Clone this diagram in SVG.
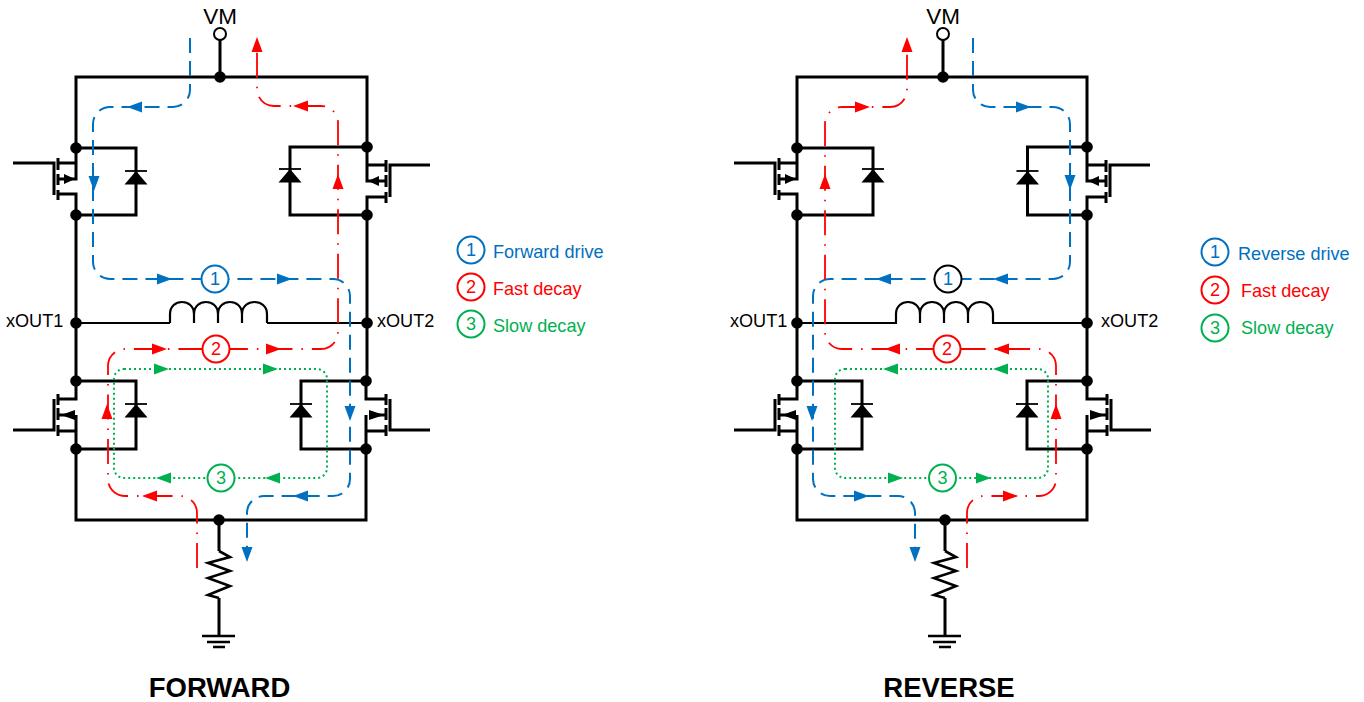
<svg xmlns="http://www.w3.org/2000/svg" width="1364" height="702" viewBox="0 0 1364 702">
<style>
text{font-family:"Liberation Sans",Arial,sans-serif;font-size:18.1px;fill:#000}
.w{fill:none;stroke:#000;stroke-width:3;stroke-linejoin:miter}
.g{fill:none;stroke:#000;stroke-width:2.6}
.b{fill:none;stroke:#000;stroke-width:1.8}
.t{fill:none;stroke:#000;stroke-width:2.2}
.d{fill:#000;stroke:none}
.o{fill:#fff;stroke:#000;stroke-width:2}
.blue{fill:none;stroke:#0070C0;stroke-width:2;stroke-dasharray:15 8}
.red{fill:none;stroke:#FF0000;stroke-width:1.8;stroke-dasharray:25 9 1.5 9}
.green{fill:none;stroke:#00B050;stroke-width:2;stroke-dasharray:2 3}
.ab{fill:#0070C0}.ar{fill:#FF0000}.ag{fill:#00B050}
.cb,.cr,.cg,.ck{fill:#fff;stroke-width:2}
.cb{stroke:#0070C0}.cr{stroke:#FF0000}.cg{stroke:#00B050}.ck{stroke:#000}
.tb{fill:#0070C0}.tr{fill:#FF0000}.tg{fill:#00B050}
.m{text-anchor:middle}
.h{font-size:27.5px;font-weight:bold;text-anchor:middle}
.vm{font-size:22.5px;text-anchor:middle}
</style>
<defs>
<polygon id="ah" points="0,0 -15,-5.500 -15,5.500"/>
<circle id="n" r="5.800" class="d"/>
<g id="dio"><path class="b" d="M-11,0H11"/><polygon class="d" points="0,0 11.500,13.500 -11.500,13.500"/></g>
<path id="coil" class="t" d="M0,21V12C0,-4 24,-4 24,12V21M24,12C24,-4 48,-4 48,12V21M48,12C48,-4 72,-4 72,12V21M72,12C72,-4 97,-4 97,12V21"/>
<g id="mtl"><path class="w" d="M-63,15H-22V47M-18,10V22M-18,26V37M-18,42V52M0,0V31H-18M-18,46H0V67M-18,15H0"/><polygon class="d" points="-1,31 -12,26 -12,36"/></g>
<g id="mtr"><path class="w" d="M63,18H23V50M19,13V25M19,28V40M19,45V56M0,0V34H19M19,50H0V68M19,18H0"/><polygon class="d" points="1,34 12,29 12,39"/></g>
<g id="mbl"><path class="w" d="M-63,49H-22V18M-18,13V24M-18,27V39M-18,44V55M0,0V18H-18M-18,34H-8M0,34V68M-18,50H0"/><polygon class="d" points="-15,34 -1,29 -1,39"/></g>
<g id="mbr"><path class="w" d="M64,49H24V18M20,13V24M20,27V39M20,44V55M0,0V18H20M20,34H10M0,34V68M20,50H0"/><polygon class="d" points="18,34 3,29 3,39"/></g>
</defs>

<g id="forward-bridge">
<path class="w" d="M76,148V77H367V147M76,215V323M367,215V323M76,323V381M367,323V381M76,449V520H366V449M220,40V77M219,520V551M219,598V636"/>
<path class="g" d="M219,551L230,557L208,563L230,571L208,578L230,586L208,595L219,598"/>
<path class="g" d="M202,636H235M207,642H230M213,647H225"/>
<path class="t" d="M76,323H170M267,323H367"/>
<use href="#coil" transform="translate(170,302)"/>
</g>
<g id="forward-qh1"><use href="#mtl" transform="translate(76,148)"/><path class="w" d="M76,148H136V215H76"/><use href="#dio" transform="translate(136,171)"/></g>
<g id="forward-qh2"><use href="#mtr" transform="translate(367,147)"/><path class="w" d="M367,147H290V215H367"/><use href="#dio" transform="translate(290,169)"/></g>
<g id="forward-ql1"><use href="#mbl" transform="translate(76,381)"/><path class="w" d="M76,381H136V449H76"/><use href="#dio" transform="translate(136,404)"/></g>
<g id="forward-ql2"><use href="#mbr" transform="translate(366,381)"/><path class="w" d="M366,381H301V449H366"/><use href="#dio" transform="translate(301,404)"/></g>

<g id="reverse-bridge">
<path class="w" d="M797,148V77H1087V147M797,215V323M1087,215V323M797,323V381M1087,323V381M797,449V520H1087V449M943,40V77M945,520V551M945,598V636"/>
<path class="g" d="M945,551L956,557L934,563L956,571L934,578L956,586L934,595L945,598"/>
<path class="g" d="M928,636H961M933,642H956M939,647H951"/>
<path class="t" d="M797,323H897M992,323H1087"/>
<use href="#coil" transform="translate(896,302)"/>
</g>
<g id="reverse-qh1"><use href="#mtl" transform="translate(797,148)"/><path class="w" d="M797,148H873V215H797"/><use href="#dio" transform="translate(873,169)"/></g>
<g id="reverse-qh2"><use href="#mtr" transform="translate(1087,147)"/><path class="w" d="M1087,147H1027.500V215H1087"/><use href="#dio" transform="translate(1027.500,171)"/></g>
<g id="reverse-ql1"><use href="#mbl" transform="translate(797,381)"/><path class="w" d="M797,381H862V449H797"/><use href="#dio" transform="translate(862,404)"/></g>
<g id="reverse-ql2"><use href="#mbr" transform="translate(1087,381)"/><path class="w" d="M1087,381H1027V449H1087"/><use href="#dio" transform="translate(1027,404)"/></g>

<g id="connectors">
<path class="blue" d="M190,38V90A17,17 0 0 1 173,107H110A17,17 0 0 0 93,124V262A17,17 0 0 0 110,279H333A17,17 0 0 1 350,296V479A17,17 0 0 1 333,496H264A17,17 0 0 0 247,513V548"/>
<path class="red" d="M197,568V513A17,17 0 0 0 180,496H125A17,17 0 0 1 108,479V366A17,17 0 0 1 125,349H321A17,17 0 0 0 338,332V123A17,17 0 0 0 321,106H274A17,17 0 0 1 257,89V50"/>
<rect class="green" x="114" y="369" width="213" height="109" rx="10"/>
<path class="blue" d="M973,38V90A17,17 0 0 0 990,107H1053A17,17 0 0 1 1070,124V262A17,17 0 0 1 1053,279H830A17,17 0 0 0 813,296V479A17,17 0 0 0 830,496H898A17,17 0 0 1 915,513V548"/>
<path class="red" d="M967,568V513A17,17 0 0 1 984,496H1039A17,17 0 0 0 1056,479V366A17,17 0 0 0 1039,349H842A17,17 0 0 1 825,332V124A17,17 0 0 1 842,107H890A17,17 0 0 0 907,90V50"/>
<rect class="green" x="835" y="369" width="213" height="109" rx="10"/>
<g class="ab">
<use href="#ah" transform="translate(127,107) rotate(180)"/>
<use href="#ah" transform="translate(94,191) rotate(90)"/>
<use href="#ah" transform="translate(172,279)"/>
<use href="#ah" transform="translate(292,279)"/>
<use href="#ah" transform="translate(350,421) rotate(90)"/>
<use href="#ah" transform="translate(293,496) rotate(180)"/>
<use href="#ah" transform="translate(247,562) rotate(90)"/>
<use href="#ah" transform="translate(1031,107)"/>
<use href="#ah" transform="translate(1070,190) rotate(90)"/>
<use href="#ah" transform="translate(993,279) rotate(180)"/>
<use href="#ah" transform="translate(876,279) rotate(180)"/>
<use href="#ah" transform="translate(812,421) rotate(90)"/>
<use href="#ah" transform="translate(869,496)"/>
<use href="#ah" transform="translate(915,562) rotate(90)"/>
</g>
<g class="ar">
<use href="#ah" transform="translate(257,37) rotate(-90)"/>
<use href="#ah" transform="translate(293,106) rotate(180)"/>
<use href="#ah" transform="translate(338,174) rotate(-90)"/>
<use href="#ah" transform="translate(167,349)"/>
<use href="#ah" transform="translate(281,349)"/>
<use href="#ah" transform="translate(107,404) rotate(-90)"/>
<use href="#ah" transform="translate(142,496) rotate(180)"/>
<use href="#ah" transform="translate(907,37) rotate(-90)"/>
<use href="#ah" transform="translate(870,107)"/>
<use href="#ah" transform="translate(825,174) rotate(-90)"/>
<use href="#ah" transform="translate(994,349) rotate(180)"/>
<use href="#ah" transform="translate(885,349) rotate(180)"/>
<use href="#ah" transform="translate(1056,404) rotate(-90)"/>
<use href="#ah" transform="translate(1018,496)"/>
</g>
<g class="ag">
<use href="#ah" transform="translate(169,369)"/>
<use href="#ah" transform="translate(278,369)"/>
<use href="#ah" transform="translate(156,478) rotate(180)"/>
<use href="#ah" transform="translate(265,478) rotate(180)"/>
<use href="#ah" transform="translate(883,369) rotate(180)"/>
<use href="#ah" transform="translate(993,369) rotate(180)"/>
<use href="#ah" transform="translate(903,478)"/>
<use href="#ah" transform="translate(991,478)"/>
</g>
</g>

<g id="junctions">
<circle class="o" cx="220" cy="34" r="6"/><circle class="o" cx="943" cy="34" r="6"/>
<use href="#n" x="220" y="77"/><use href="#n" x="76" y="148"/><use href="#n" x="76" y="215"/><use href="#n" x="367" y="147"/><use href="#n" x="367" y="215"/><use href="#n" x="76" y="323"/><use href="#n" x="367" y="323"/><use href="#n" x="76" y="381"/><use href="#n" x="76" y="449"/><use href="#n" x="366" y="381"/><use href="#n" x="366" y="449"/><use href="#n" x="219" y="520"/>
<use href="#n" x="943" y="77"/><use href="#n" x="797" y="148"/><use href="#n" x="797" y="215"/><use href="#n" x="1087" y="147"/><use href="#n" x="1087" y="215"/><use href="#n" x="797" y="323"/><use href="#n" x="1087" y="323"/><use href="#n" x="797" y="381"/><use href="#n" x="797" y="449"/><use href="#n" x="1087" y="381"/><use href="#n" x="1087" y="449"/><use href="#n" x="945" y="520"/>
</g>

<g id="badge-f1"><circle class="cb" cx="215" cy="279" r="13.500"/><text class="tb m" x="215" y="285">1</text></g>
<g id="badge-f2"><circle class="cr" cx="216" cy="349" r="13.500"/><text class="tr m" x="216" y="355">2</text></g>
<g id="badge-f3"><circle class="cg" cx="221" cy="478" r="13.500"/><text class="tg m" x="221" y="484">3</text></g>
<g id="badge-r1"><circle class="ck" cx="948" cy="279" r="13.500"/><text class="tb m" x="948" y="285">1</text></g>
<g id="badge-r2"><circle class="cr" cx="947" cy="349" r="13.500"/><text class="tr m" x="947" y="355">2</text></g>
<g id="badge-r3"><circle class="cg" cx="942.500" cy="478" r="13.500"/><text class="tg m" x="942.500" y="484">3</text></g>

<g id="legend-forward">
<circle class="cb" cx="471" cy="250" r="13.500"/><text class="tb m" x="471" y="256">1</text><text class="tb" x="493" y="258">Forward drive</text>
<circle class="cr" cx="471" cy="287" r="13.500"/><text class="tr m" x="471" y="293">2</text><text class="tr" x="493" y="295">Fast decay</text>
<circle class="cg" cx="471" cy="324" r="13.500"/><text class="tg m" x="471" y="330">3</text><text class="tg" x="493" y="332">Slow decay</text>
</g>
<g id="legend-reverse">
<circle class="cb" cx="1215" cy="252" r="13.500"/><text class="tb m" x="1215" y="258">1</text><text class="tb" x="1238" y="260">Reverse drive</text>
<circle class="cr" cx="1215" cy="290" r="13.500"/><text class="tr m" x="1215" y="296">2</text><text class="tr" x="1241" y="297">Fast decay</text>
<circle class="cg" cx="1215" cy="328" r="13.500"/><text class="tg m" x="1215" y="334">3</text><text class="tg" x="1241" y="334">Slow decay</text>
</g>

<g id="labels">
<text class="vm" x="220" y="23.500">VM</text><text class="vm" x="943" y="23.500">VM</text>
<text x="6" y="327">xOUT1</text><text x="377" y="327">xOUT2</text>
<text x="730" y="327">xOUT1</text><text x="1101" y="327">xOUT2</text>
<text class="h" x="219.500" y="697">FORWARD</text><text class="h" x="949" y="697">REVERSE</text>
</g>
</svg>
